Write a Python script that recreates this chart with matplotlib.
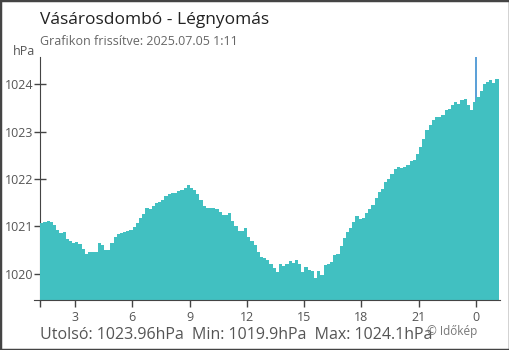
import matplotlib
matplotlib.use('Agg')
import matplotlib.pyplot as plt
from matplotlib.patches import Rectangle

plt.rcParams['font.family'] = ['Open Sans', 'DejaVu Sans']

# 10 perces mérések 1:11-től másnap 1:11-ig (hPa)
start_hour = 1 + 11 / 60
step_minutes = 10
pressure = [
    1021.07, 1021.10, 1021.12, 1021.10, 1021.02, 1020.93, 1020.86, 1020.88, 1020.74, 1020.70,
    1020.66, 1020.68, 1020.63, 1020.52, 1020.42, 1020.47, 1020.47, 1020.47, 1020.65, 1020.60,
    1020.50, 1020.50, 1020.66, 1020.78, 1020.84, 1020.87, 1020.89, 1020.90, 1020.93, 1020.98,
    1021.07, 1021.17, 1021.26, 1021.38, 1021.37, 1021.44, 1021.49, 1021.52, 1021.56, 1021.64,
    1021.69, 1021.71, 1021.71, 1021.74, 1021.77, 1021.82, 1021.88, 1021.80, 1021.76, 1021.69,
    1021.55, 1021.43, 1021.38, 1021.38, 1021.38, 1021.37, 1021.30, 1021.24, 1021.24, 1021.28,
    1021.12, 1021.00, 1020.90, 1020.91, 1020.96, 1020.78, 1020.69, 1020.60, 1020.47, 1020.36,
    1020.33, 1020.30, 1020.20, 1020.12, 1020.05, 1020.20, 1020.16, 1020.20, 1020.28, 1020.24,
    1020.30, 1020.20, 1020.03, 1020.14, 1020.08, 1020.06, 1019.92, 1020.06, 1019.97, 1020.18,
    1020.21, 1020.26, 1020.40, 1020.42, 1020.58, 1020.76, 1020.88, 1020.96, 1021.10, 1021.22,
    1021.16, 1021.18, 1021.28, 1021.37, 1021.45, 1021.60, 1021.72, 1021.78, 1021.94, 1022.00,
    1022.10, 1022.22, 1022.25, 1022.24, 1022.25, 1022.30, 1022.38, 1022.40, 1022.52, 1022.68,
    1022.85, 1023.04, 1023.14, 1023.25, 1023.30, 1023.31, 1023.34, 1023.46, 1023.48, 1023.55,
    1023.62, 1023.57, 1023.67, 1023.69, 1023.55, 1023.45, 1023.62, 1023.72, 1023.85, 1024.00,
    1024.05, 1024.08, 1024.02, 1024.10, 1023.96,
]
hour_ticks = [3, 6, 9, 12, 15, 18, 21, 24]
hour_labels = ['3', '6', '9', '12', '15', '18', '21', '0']
y_ticks = [1020, 1021, 1022, 1023, 1024]

title = 'Vásárosdombó - Légnyomás'
subtitle = 'Grafikon frissítve: 2025.07.05 1:11'
stats = 'Utolsó: 1023.96hPa  Min: 1019.9hPa  Max: 1024.1hPa'

times = [start_hour + i * step_minutes / 60 for i in range(len(pressure))]

fill_color = '#41c0c1'
axis_color = '#444444'
blue = '#3d8fd1'

fig = plt.figure(figsize=(5.1, 3.5), dpi=100)
ax = fig.add_axes([34 / 510, 1 - 300 / 350, (500 - 34) / 510, (300 - 57) / 350])

ymin, ymax = 1019.45, 1024.57
ax.fill_between(times, pressure, ymin, step='post', color=fill_color, lw=0, zorder=1)
ax.axvline(24, color=blue, lw=1.2, zorder=0.8)

ax.set_xlim(start_hour - 0.33, times[-1] + 0.07)
ax.set_ylim(ymin, ymax)
ax.set_axisbelow(True)

for s in ['top', 'right']:
    ax.spines[s].set_visible(False)
ax.spines['left'].set_position(('data', start_hour))
ax.spines['left'].set_color(axis_color)
ax.spines['bottom'].set_color(axis_color)
ax.spines['left'].set_zorder(0.9)

ax.set_xticks([start_hour] + hour_ticks)
ax.set_xticklabels([''] + hour_labels)
ax.set_yticks(y_ticks)
ax.set_yticklabels([str(v) for v in y_ticks])
ax.tick_params(axis='x', direction='out', length=5, width=1, color=axis_color,
               labelsize=9, labelcolor='#555555', pad=3)
ax.tick_params(axis='y', direction='inout', length=8, width=1, color=axis_color,
               labelsize=9, labelcolor='#555555', pad=1)
ax.xaxis.get_major_ticks()[-1].tick1line.set_color(blue)

fig.text(40 / 510, 1 - 24 / 350, title, fontsize=12.5, color='#222222', va='baseline')
fig.text(40 / 510, 1 - 45 / 350, subtitle, fontsize=9, color='#666666', va='baseline')
fig.text(35 / 510, 1 - 55 / 350, 'hPa', fontsize=9, color='#555555', va='baseline', ha='right')
fig.text(40 / 510, 1 - 339 / 350, stats, fontsize=11.5, color='#555555', va='baseline')
fig.text(427 / 510, 1 - 335 / 350, '© Időkép', fontsize=8.5, color='#777777', va='baseline')

fig.patches.append(Rectangle((0, 0), 1, 1, transform=fig.transFigure, fill=False,
                             edgecolor=axis_color, lw=2.5))

fig.savefig('out.png', dpi=100)
